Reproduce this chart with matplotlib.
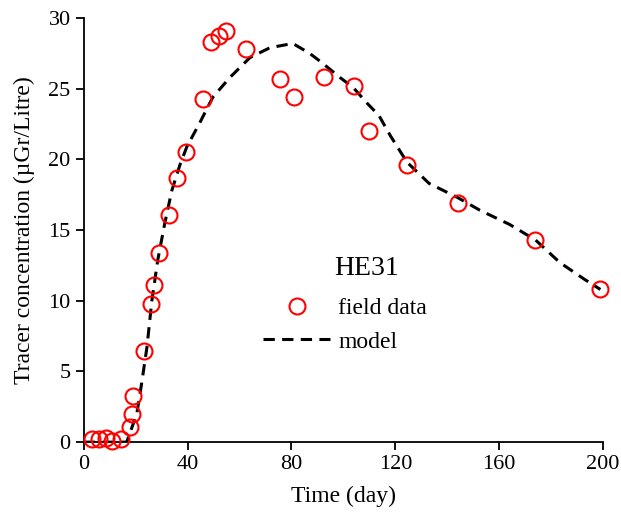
import matplotlib.pyplot as plt

plt.rcParams['font.family'] = ['Liberation Serif', 'DejaVu Serif']

# field observations
field_days = [3, 6, 8.5, 11, 14.5, 17.7, 18.5, 18.9, 23.1, 25.8, 27, 29, 33,
              35.8, 39.3, 45.9, 49, 52, 54.7, 62.4, 75.5, 80.9, 92.5, 104,
              109.8, 124.5, 144, 173.8, 198.8]
field_conc = [0.2, 0.2, 0.3, 0.1, 0.2, 1.05, 2.0, 3.25, 6.45, 9.8, 11.1, 13.4,
              16.1, 18.7, 20.5, 24.3, 28.3, 28.7, 29.1, 27.8, 25.7, 24.4, 25.8,
              25.2, 22.0, 19.6, 16.95, 14.3, 10.8]

# model curve
model_days = [0, 10, 16.5, 20.4, 22.3, 24.3, 26.2, 28.5, 31.2, 33.9, 37, 39.7,
              44.7, 49.7, 56.3, 64, 71.7, 80.5, 87, 92, 98.6, 103.7, 109,
              113.7, 118, 124.5, 133, 144, 152.6, 164, 174, 183.4, 193, 199]
model_conc = [0, 0, 0, 2.0, 4.2, 6.7, 10.0, 12.9, 15.5, 17.8, 19.6, 20.9,
              22.6, 24.4, 25.8, 27.2, 27.9, 28.2, 27.5, 26.8, 25.8, 25.1, 24.0,
              23.1, 21.7, 19.8, 18.3, 17.3, 16.4, 15.4, 14.3, 12.7, 11.5, 10.8]

fig = plt.figure(figsize=(6.21, 5.22), dpi=100)
ax = fig.add_axes([0.135, 0.153, 0.836, 0.8125])

ax.plot(field_days, field_conc, linestyle='none', marker='o', markersize=11.5,
        markerfacecolor='none', markeredgecolor='red', markeredgewidth=1.5,
        label='field data', clip_on=False, zorder=3)
ax.plot(model_days, model_conc, color='black', linewidth=2.2,
        linestyle=(0, (3.7, 2.4)), label='model', zorder=2)

ax.set_xlim(0, 200)
ax.set_ylim(0, 30)
ax.set_xticks([0, 40, 80, 120, 160, 200])
ax.set_yticks([0, 5, 10, 15, 20, 25, 30])
ax.spines['top'].set_visible(False)
ax.spines['right'].set_visible(False)
ax.spines['left'].set_linewidth(1.3)
ax.spines['bottom'].set_linewidth(1.3)
ax.tick_params(direction='out', length=6, width=1.3, labelsize=16)

ax.set_xlabel('Time (day)', fontsize=17, labelpad=8)
ax.set_ylabel('Tracer concentration (µGr/Litre)', fontsize=17, labelpad=10)

ax.text(0.545, 0.41, 'HE31', transform=ax.transAxes, fontsize=20,
        ha='center', va='center')
ax.legend(frameon=False, fontsize=17, loc='center left',
          bbox_to_anchor=(0.345, 0.276), handlelength=2.85,
          handletextpad=0.35, borderpad=0, borderaxespad=0, labelspacing=0.5)

fig.savefig('out.png', dpi=100)
